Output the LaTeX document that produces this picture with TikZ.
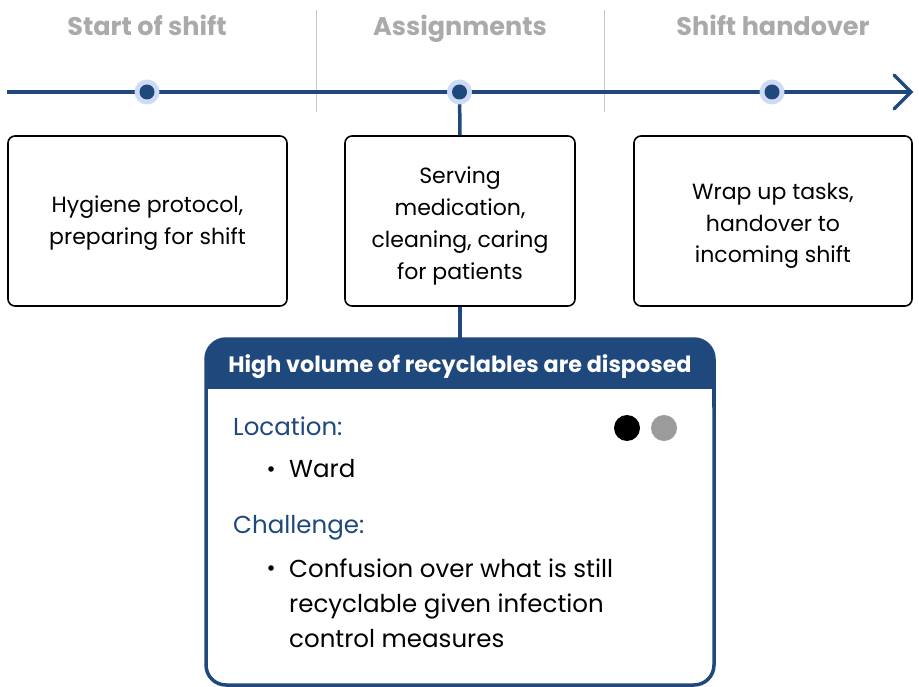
\documentclass[tikz,border=0pt]{standalone}
\usepackage{fontspec}
\setmainfont{Poppins}
\definecolor{navy}{RGB}{31,72,124}
\definecolor{halo}{RGB}{205,219,245}
\definecolor{headgray}{RGB}{170,170,170}
\definecolor{sepgray}{RGB}{200,200,200}
\definecolor{dotgray}{RGB}{155,155,155}
\begin{document}
\begin{tikzpicture}[x=1pt,y=-1pt,
  head/.style={font=\fontsize{25.5}{30}\selectfont\bfseries, text=headgray, anchor=base},
  stepbox/.style={draw=black, line width=1.6pt, rounded corners=7pt},
  boxtext/.style={font=\fontsize{22}{31.7}\selectfont, align=center},
  body/.style={font=\fontsize{24.5}{35}\selectfont, anchor=base west, inner sep=0pt},
  label/.style={font=\fontsize{24.5}{35}\selectfont, text=navy, anchor=base west, inner sep=0pt},
  tl/.style={draw=navy, line width=3.5pt}]
\useasboundingbox (0,0) rectangle (919,687);
\clip (0,0) rectangle (919,687);
\fill[white] (0,0) rectangle (919,687);
% separators
\draw[sepgray, line width=0.8pt] (316,10) -- (316,112);
\draw[sepgray, line width=0.8pt] (604,10) -- (604,112);
% headings
\node[head] (h1) at (147,36) {Start of shift};
\node[head] (h2) at (460,36) {Assignments};
\node[head] (h3) at (773,36) {Shift handover};
% timeline
\coordinate (ts) at (7,92);
\coordinate (te) at (911,92);
\draw[tl] (ts) -- (te);
\draw[navy, line width=3.5pt, line cap=round, line join=miter] (894,75) -- (911,92) -- (894,109);
% boxes
\node[stepbox, minimum width=279pt, minimum height=170pt] (b1) at (147.5,221) {};
\node[stepbox, minimum width=230pt, minimum height=170pt] (b2) at (460,221) {};
\node[stepbox, minimum width=278pt, minimum height=170pt] (b3) at (773,221) {};
\node[boxtext] at ([yshift=-2pt]b1) {Hygiene protocol,\\preparing for shift};
\node[boxtext] at ([yshift=-5pt]b2) {Serving\\medication,\\cleaning, caring\\for patients};
\node[boxtext] at ([yshift=-5pt]b3) {Wrap up tasks,\\handover to\\incoming shift};
% big box
\coordinate (bbt) at (460,339);
\draw[tl] (459.5,92) -- (b2.north);
\draw[tl] (b2.south) -- (bbt);
\fill[navy, rounded corners=20pt] (206,339) rectangle (714,420);
\fill[navy] (206,380) rectangle (714,389);
\fill[white] (208,389) rectangle (712,700);
\draw[navy, line width=3.5pt, rounded corners=20pt] (206,339) rectangle (714,685);
\node[font=\fontsize{22.3}{26}\selectfont\bfseries, text=white, anchor=base] (title) at (460,372) {High volume of recyclables are disposed};
% dot timeline
\foreach \x/\n in {147/d1,459.5/d2,772/d3}{
  \fill[halo] (\x,92) circle (12.5pt);
  \fill[navy] (\x,92) circle (7.5pt);
}
% content
\node[label] (loc) at (233,435) {Location:};
\node[body] (w) at (289,477) {Ward};
\fill (271,469) circle (2.8pt);
\node[label] (ch) at (233,533) {Challenge:};
\fill (271,568) circle (2.8pt);
\node[body] (c1) at (289,577) {Confusion over what is still};
\node[body] (c2) at (289,612) {recyclable given infection};
\node[body] (c3) at (289,647) {control measures};
\fill[black] (627,428) circle (13pt);
\fill[dotgray] (664,428) circle (13pt);
\end{tikzpicture}
\end{document}
